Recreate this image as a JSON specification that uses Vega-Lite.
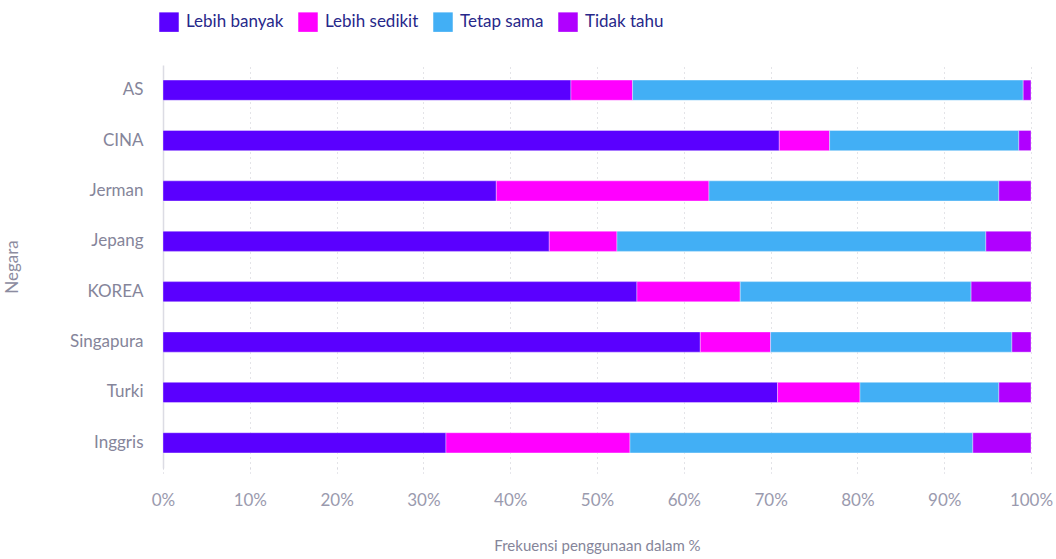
{
  "$schema": "https://vega.github.io/schema/vega-lite/v6.json",
  "width": 868,
  "height": 403,
  "autosize": {"type": "none"},
  "padding": {"left": 163, "top": 65, "right": 25, "bottom": 91},
  "background": "white",
  "config": {"view": {"stroke": null}, "font": "Lato"},
  "data": {"values": [
    {"negara": "AS", "kategori": "Lebih banyak", "nilai": 47.0},
    {"negara": "AS", "kategori": "Lebih sedikit", "nilai": 7.1},
    {"negara": "AS", "kategori": "Tetap sama", "nilai": 45.0},
    {"negara": "AS", "kategori": "Tidak tahu", "nilai": 0.9},
    {"negara": "CINA", "kategori": "Lebih banyak", "nilai": 71.0},
    {"negara": "CINA", "kategori": "Lebih sedikit", "nilai": 5.8},
    {"negara": "CINA", "kategori": "Tetap sama", "nilai": 21.8},
    {"negara": "CINA", "kategori": "Tidak tahu", "nilai": 1.4},
    {"negara": "Jerman", "kategori": "Lebih banyak", "nilai": 38.4},
    {"negara": "Jerman", "kategori": "Lebih sedikit", "nilai": 24.5},
    {"negara": "Jerman", "kategori": "Tetap sama", "nilai": 33.4},
    {"negara": "Jerman", "kategori": "Tidak tahu", "nilai": 3.7},
    {"negara": "Jepang", "kategori": "Lebih banyak", "nilai": 44.5},
    {"negara": "Jepang", "kategori": "Lebih sedikit", "nilai": 7.8},
    {"negara": "Jepang", "kategori": "Tetap sama", "nilai": 42.5},
    {"negara": "Jepang", "kategori": "Tidak tahu", "nilai": 5.2},
    {"negara": "KOREA", "kategori": "Lebih banyak", "nilai": 54.6},
    {"negara": "KOREA", "kategori": "Lebih sedikit", "nilai": 11.9},
    {"negara": "KOREA", "kategori": "Tetap sama", "nilai": 26.6},
    {"negara": "KOREA", "kategori": "Tidak tahu", "nilai": 6.9},
    {"negara": "Singapura", "kategori": "Lebih banyak", "nilai": 61.9},
    {"negara": "Singapura", "kategori": "Lebih sedikit", "nilai": 8.1},
    {"negara": "Singapura", "kategori": "Tetap sama", "nilai": 27.8},
    {"negara": "Singapura", "kategori": "Tidak tahu", "nilai": 2.2},
    {"negara": "Turki", "kategori": "Lebih banyak", "nilai": 70.8},
    {"negara": "Turki", "kategori": "Lebih sedikit", "nilai": 9.5},
    {"negara": "Turki", "kategori": "Tetap sama", "nilai": 16.0},
    {"negara": "Turki", "kategori": "Tidak tahu", "nilai": 3.7},
    {"negara": "Inggris", "kategori": "Lebih banyak", "nilai": 32.6},
    {"negara": "Inggris", "kategori": "Lebih sedikit", "nilai": 21.2},
    {"negara": "Inggris", "kategori": "Tetap sama", "nilai": 39.5},
    {"negara": "Inggris", "kategori": "Tidak tahu", "nilai": 6.7}
  ]},
  "mark": {"type": "bar", "stroke": "white", "strokeOpacity": 0.35, "strokeWidth": 1},
  "encoding": {
    "y": {
      "field": "negara", "type": "nominal",
      "sort": ["AS", "CINA", "Jerman", "Jepang", "KOREA", "Singapura", "Turki", "Inggris"],
      "scale": {"paddingInner": 0.6, "paddingOuter": 0.3},
      "axis": {
        "title": "Negara", "titleFont": "Lato", "titleFontSize": 17, "titleFontWeight": "normal",
        "titleColor": "#8c8ca0", "titlePadding": 48,
        "labelFont": "Lato", "labelFontSize": 17, "labelColor": "#85859a", "labelPadding": 20,
        "ticks": false, "domainColor": "#dcdce4", "domainWidth": 1.5
      }
    },
    "x": {
      "field": "nilai", "type": "quantitative", "stack": "zero",
      "scale": {"domain": [0, 100], "nice": false},
      "axis": {
        "title": "Frekuensi penggunaan dalam %", "titleFont": "Lato", "titleFontSize": 15,
        "titleFontWeight": "normal", "titleColor": "#85859a", "titlePadding": 30,
        "values": [0, 10, 20, 30, 40, 50, 60, 70, 80, 90, 100],
        "labelExpr": "datum.value + '%'", "labelFlush": false,
        "labelFont": "Lato", "labelFontSize": 17, "labelColor": "#9a9aae", "labelPadding": 18,
        "domain": false, "ticks": true, "tickColor": "#cfcfd8", "tickSize": 6, "tickDash": [1, 3],
        "grid": true, "gridColor": "#c8c8d0", "gridDash": [1, 4], "gridWidth": 1
      }
    },
    "color": {
      "field": "kategori", "type": "nominal",
      "sort": ["Lebih banyak", "Lebih sedikit", "Tetap sama", "Tidak tahu"],
      "scale": {
        "domain": ["Lebih banyak", "Lebih sedikit", "Tetap sama", "Tidak tahu"],
        "range": ["#5a00ff", "#ff00ff", "#42aff5", "#b000ff"]
      },
      "legend": {
        "title": null, "orient": "none", "direction": "horizontal",
        "legendX": -4, "legendY": -53,
        "symbolType": "square", "symbolSize": 380, "symbolStrokeWidth": 0, "symbolOpacity": 1,
        "labelFont": "Lato", "labelFontSize": 17, "labelColor": "#27288a", "labelOffset": 7,
        "columnPadding": 14
      }
    }
  }
}
